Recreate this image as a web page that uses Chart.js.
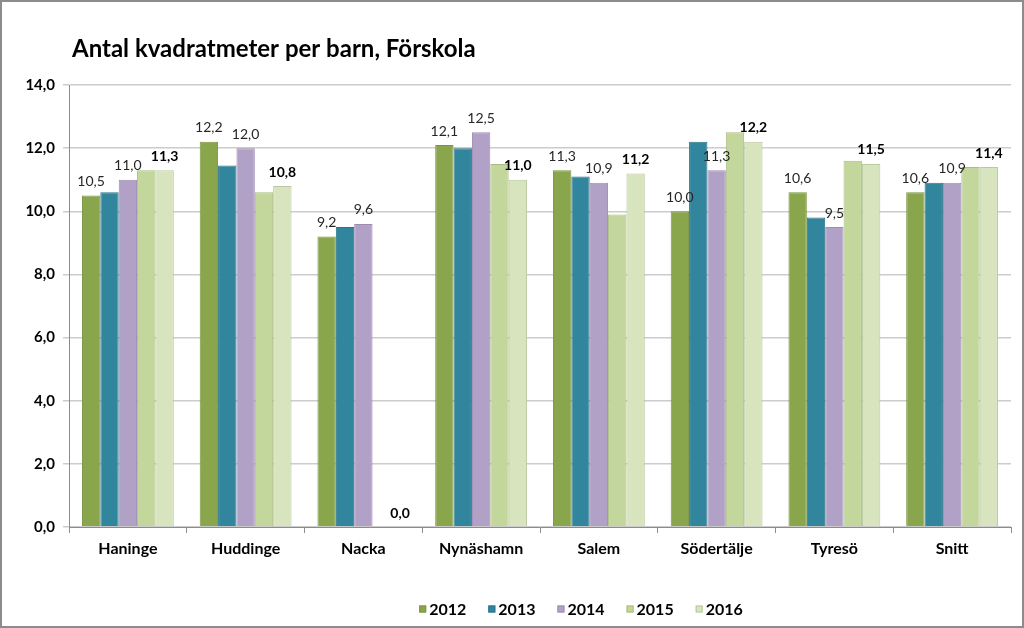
<!DOCTYPE html>
<html>
<head>
<meta charset="utf-8">
<script src="https://cdn.jsdelivr.net/npm/chart.js@4.4.0/dist/chart.umd.min.js"></script>
<style>
  html, body { margin: 0; padding: 0; background: #fff; }
  #wrap { position: relative; width: 1024px; height: 628px; }
  #frame { position: absolute; left: 0; top: 0; width: 1024px; height: 628px; box-sizing: border-box; border: 2px solid #8c8c8c; pointer-events: none; }
  canvas { display: block; }
</style>
</head>
<body>
<div id="wrap">
  <canvas id="c" width="1024" height="628"></canvas>
  <div id="frame"></div>
</div>
<script>
// ---- Data ----
const chartTitle = 'Antal kvadratmeter per barn, Förskola';
const categories = ['Haninge', 'Huddinge', 'Nacka', 'Nynäshamn', 'Salem', 'Södertälje', 'Tyresö', 'Snitt'];
const seriesNames = ['2012', '2013', '2014', '2015', '2016'];
const values2012 = [10.5, 12.2, 9.2, 12.1, 11.3, 10.0, 10.6, 10.6];
const values2013 = [10.6, 11.45, 9.5, 12.0, 11.1, 12.2, 9.8, 10.9];
const values2014 = [11.0, 12.0, 9.6, 12.5, 10.9, 11.3, 9.5, 10.9];
const values2015 = [11.3, 10.6, 0.0, 11.5, 9.9, 12.5, 11.6, 11.4];
const values2016 = [11.3, 10.8, 0.0, 11.0, 11.2, 12.2, 11.5, 11.4];
const yTicks = [0, 2, 4, 6, 8, 10, 12, 14];
const labeledSeries = [true, false, true, false, true];
const boldLabelSeries = [false, false, false, false, true];

const fillColors = ['#8aa64c', '#31859c', '#b2a1c7', '#c3d69b', '#d7e4bd'];
const borderColors = ['#7a9440', '#2a7589', '#9d8cb3', '#a9bd80', '#b9c8a0'];
const FONT = 'Lato, "Open Sans", sans-serif';

const allValues = [values2012, values2013, values2014, values2015, values2016];
const fmt = v => v.toFixed(1).replace('.', ',');

const datasets = seriesNames.map((name, i) => ({
  label: name,
  data: allValues[i],
  backgroundColor: fillColors[i],
  borderColor: borderColors[i],
  borderWidth: 1,
  borderSkipped: 'bottom',
  barPercentage: 1.0,
  categoryPercentage: 0.78
}));

const titlePlugin = {
  id: 'titlePlugin',
  afterDraw(chart) {
    const ctx = chart.ctx;
    ctx.save();
    ctx.font = 'bold 24px ' + FONT;
    ctx.fillStyle = '#000';
    ctx.textAlign = 'left';
    ctx.textBaseline = 'alphabetic';
    ctx.fillText(chartTitle, 72, 57);
    ctx.restore();
  }
};

const labelPlugin = {
  id: 'labelPlugin',
  afterDatasetsDraw(chart) {
    const ctx = chart.ctx;
    ctx.save();
    ctx.textAlign = 'center';
    ctx.textBaseline = 'middle';
    chart.data.datasets.forEach((ds, i) => {
      if (!labeledSeries[i]) return;
      const meta = chart.getDatasetMeta(i);
      ctx.font = (boldLabelSeries[i] ? 'bold ' : '') + '14px ' + FONT;
      ctx.fillStyle = boldLabelSeries[i] ? '#000' : '#262626';
      meta.data.forEach((bar, j) => {
        const v = ds.data[j];
        if (v === null || v === undefined) return;
        ctx.fillText(fmt(v), bar.x, bar.y - 14);
      });
    });
    ctx.restore();
  }
};

const legendPlugin = {
  id: 'legendPlugin',
  afterDraw(chart) {
    const ctx = chart.ctx;
    ctx.save();
    ctx.font = 'bold 16px ' + FONT;
    ctx.textBaseline = 'middle';
    ctx.textAlign = 'left';
    const box = 7, gapBox = 3, gapItem = 22;
    const widths = seriesNames.map(n => ctx.measureText(n).width);
    let total = 0;
    widths.forEach((w, i) => { total += box + gapBox + w + (i < widths.length - 1 ? gapItem : 0); });
    let x = 581 - total / 2;
    const y = 609;
    seriesNames.forEach((n, i) => {
      ctx.fillStyle = fillColors[i];
      ctx.fillRect(x, y - box / 2, box, box);
      ctx.strokeStyle = borderColors[i];
      ctx.lineWidth = 1;
      ctx.strokeRect(x + 0.5, y - box / 2 + 0.5, box - 1, box - 1);
      ctx.fillStyle = '#000';
      ctx.fillText(n, x + box + gapBox, y + 1);
      x += box + gapBox + widths[i] + gapItem;
    });
    ctx.restore();
  }
};

new Chart(document.getElementById('c'), {
  type: 'bar',
  data: { labels: categories, datasets },
  options: {
    responsive: false,
    animation: false,
    devicePixelRatio: 1,
    layout: { padding: { left: 0, right: 13, top: 85, bottom: 50 } },
    plugins: {
      legend: { display: false },
      title: { display: false },
      tooltip: { enabled: false }
    },
    scales: {
      x: {
        afterFit(scale) { scale.height = 51; },
        grid: { display: true, drawOnChartArea: false, drawTicks: true, tickLength: 6, color: '#8c8c8c', offset: true },
        border: { display: true, color: '#8c8c8c', width: 1 },
        ticks: { color: '#000', font: { family: FONT, size: 16, weight: 'bold' }, padding: 6 }
      },
      y: {
        min: 0, max: 14,
        afterFit(scale) { scale.width = 69; },
        afterBuildTicks(scale) { scale.ticks = yTicks.map(v => ({ value: v })); },
        grid: { color: '#cccccc', lineWidth: 1.5, drawTicks: true, tickLength: 6 },
        border: { display: true, color: '#8c8c8c', width: 1 },
        ticks: { color: '#000', font: { family: FONT, size: 15, weight: 'bold' }, padding: 8, callback: v => fmt(v) }
      }
    }
  },
  plugins: [titlePlugin, labelPlugin, legendPlugin]
});
</script>
</body>
</html>
